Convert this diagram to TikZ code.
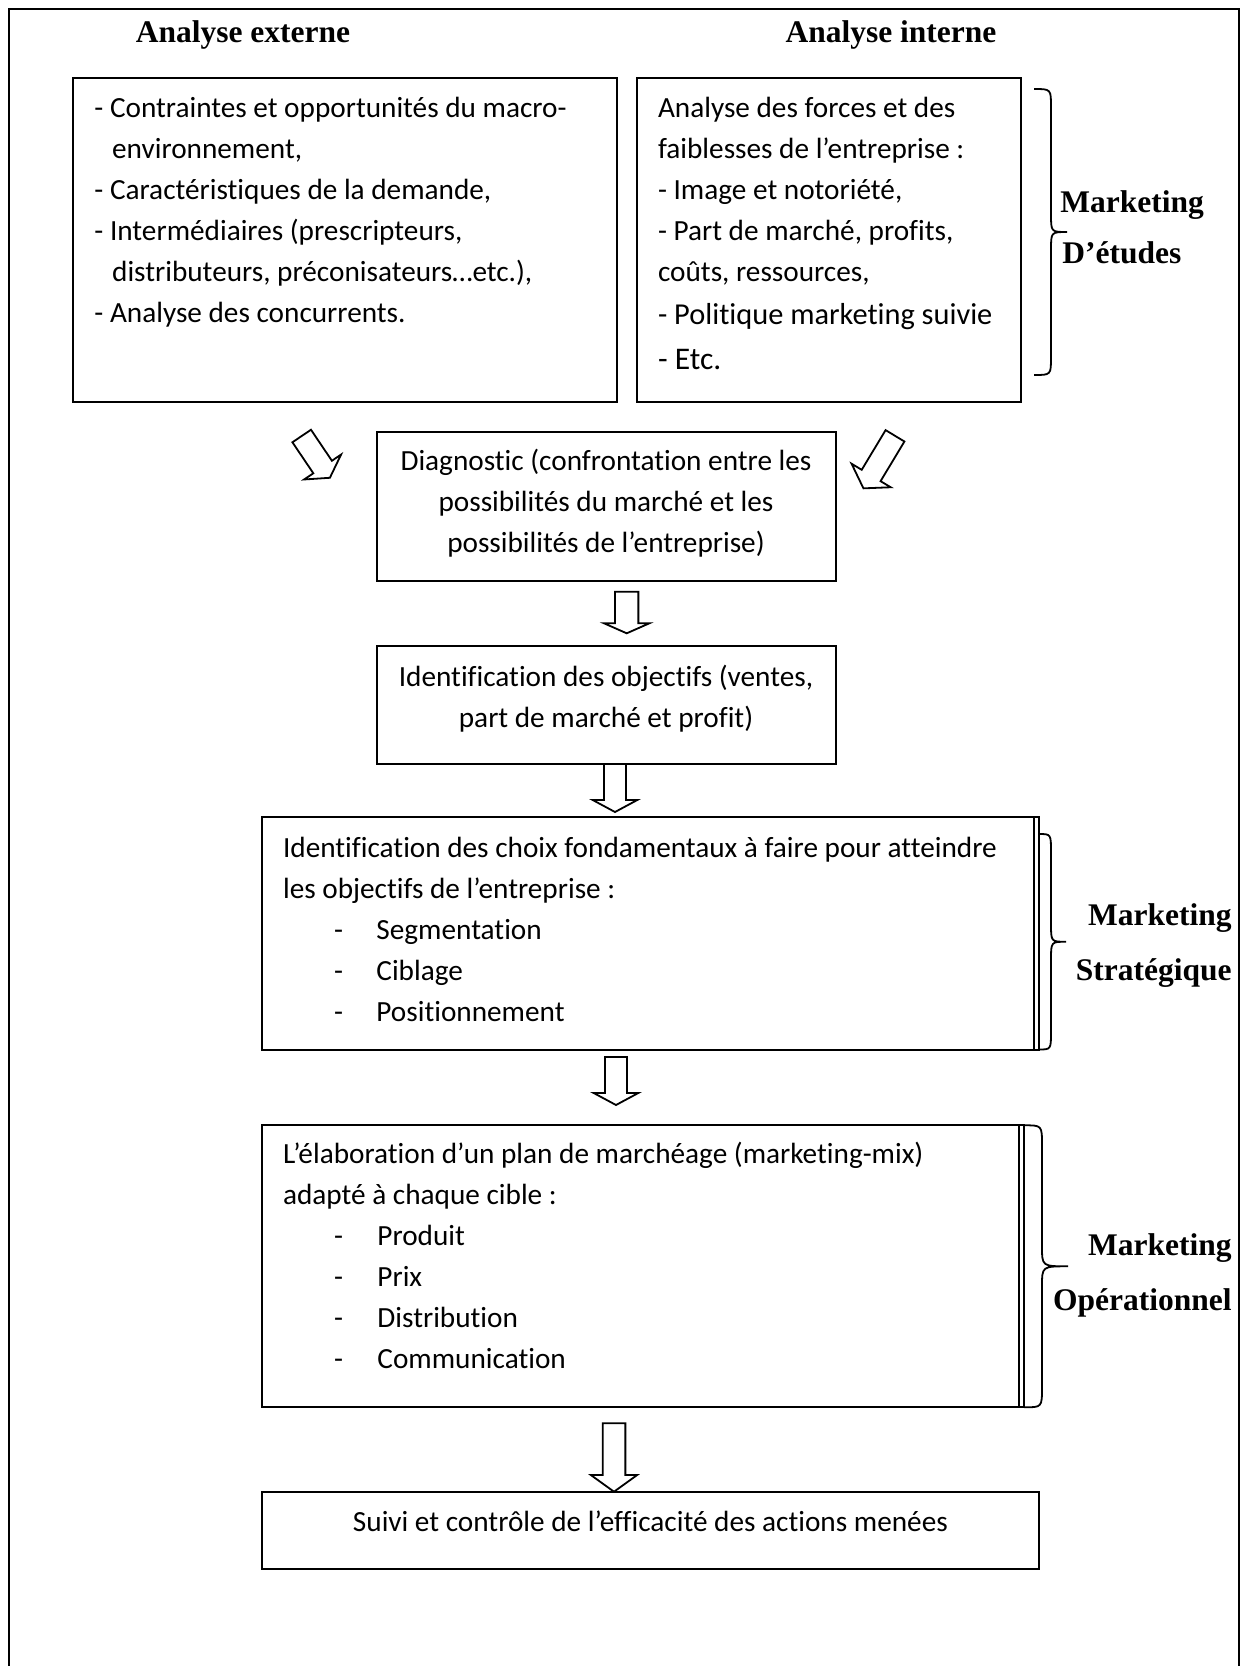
\documentclass[tikz,border=0pt]{standalone}
\usepackage{fontspec}
\setmainfont{Carlito}[Ligatures=NoCommon]
\newfontfamily\serifbf{Liberation Serif}
\usetikzlibrary{fit}
\tikzset{
  boxst/.style={draw, line width=0.9pt, inner sep=0pt},
  txt/.style={font=\fontsize{13}{18}\selectfont, inner sep=0pt, anchor=base west},
  ctxt/.style={font=\fontsize{13}{18}\selectfont, inner sep=0pt, anchor=base},
  hdr/.style={font=\serifbf\bfseries\fontsize{14}{17}\selectfont, inner sep=0pt},
  barrow/.style={draw, line width=0.8pt, fill=white, line join=miter},
  brc/.style={draw, line width=0.8pt},
  framest/.style={draw, line width=1.1pt}
}
\newcommand\blkarrow[7]{% x, y, rotation, length, shaft width, head width, head length
  \draw[barrow, shift={(#1,#2)}, rotate=#3]
    (-#5/2,0) -- (-#5/2,#4-#7) -- (-#6/2,#4-#7) -- (0,#4) -- (#6/2,#4-#7) -- (#5/2,#4-#7) -- (#5/2,0) -- cycle;}
\newcommand\wbrace[6]{% end x, spine x, tip x, top y, bottom y, radius
  \draw[brc] (#1,#4) .. controls (#2,#4) .. (#2,#4+#6)
    -- (#2,{(#4+#5)/2-#6}) .. controls (#2,{(#4+#5)/2}) .. (#3,{(#4+#5)/2})
    .. controls (#2,{(#4+#5)/2}) .. (#2,{(#4+#5)/2+#6})
    -- (#2,#5-#6) .. controls (#2,#5) .. (#1,#5);}
\begin{document}
\begin{tikzpicture}[x=0.4444pt,y=-0.4444pt]
\useasboundingbox (0,0) rectangle (1244,1666);
\draw[framest] (9,1672) -- (9,9) -- (1239,9) -- (1239,1672);

% headers
\node[hdr, anchor=base] (hext) at (243,42) {Analyse externe};
\node[hdr, anchor=base] (hint) at (891,42) {Analyse interne};

% boxes
\node[boxst, fit={(72.7,78.3) (616.7,402.3)}] (ext) {};
\node[boxst, fit={(637.3,78.3) (1021,402.3)}] (int) {};
\node[boxst, fit={(376.7,432.3) (835.7,581)}] (diag) {};
\node[boxst, fit={(376.7,646) (835.7,764)}] (obj) {};
\node[boxst, fit={(261.7,817.3) (1038.6,1049.5)}] (strat) {};
\draw[line width=0.9pt] (1033.8,817.3) -- (1033.8,1049.5);
\node[boxst, fit={(261.7,1125.3) (1024,1407.3)}] (oper) {};
\draw[line width=0.9pt] (1019,1125.3) -- (1019,1407.3);
\node[boxst, fit={(261.7,1491.7) (1039,1569)}] (suivi) {};

% external analysis text
\node[txt] (e1) at (94,117) {- Contraintes et opportunités du macro-};
\node[txt] (e2) at (111.7,158) {environnement,};
\node[txt] (e3) at (94,199) {- Caractéristiques de la demande,};
\node[txt] (e4) at (94,240) {- Intermédiaires (prescripteurs,};
\node[txt] (e5) at (111.7,281) {distributeurs, préconisateurs…etc.),};
\node[txt] (e6) at (94,322) {- Analyse des concurrents.};

% internal analysis text
\node[txt] (i1) at (657.6,117) {Analyse des forces et des};
\node[txt] (i2) at (657.6,158) {faiblesses de l’entreprise :};
\node[txt] (i3) at (657.6,199) {- Image et notoriété,};
\node[txt] (i4) at (657.6,240) {- Part de marché, profits,};
\node[txt] (i5) at (657.6,281) {coûts, ressources,};
\node[txt, font=\fontsize{13.5}{18}\selectfont] (i6) at (657.6,324) {- Politique marketing suivie};
\node[txt, font=\fontsize{14}{18}\selectfont] (i7) at (657.6,369) {- Etc.};

% diagnostic
\node[ctxt] (d1) at (606,470) {Diagnostic (confrontation entre les};
\node[ctxt] (d2) at (606,511) {possibilités du marché et les};
\node[ctxt] (d3) at (606,552) {possibilités de l’entreprise)};

% objectives
\node[ctxt] (o1) at (606,686) {Identification des objectifs (ventes,};
\node[ctxt] (o2) at (606,727) {part de marché et profit)};

% strategic
\node[txt] (s1) at (282.6,857) {Identification des choix fondamentaux à faire pour atteindre};
\node[txt] (s2) at (282.6,898) {les objectifs de l’entreprise :};
\node[txt] (s3d) at (333.6,939) {-};
\node[txt] (s3) at (376,939) {Segmentation};
\node[txt] (s4d) at (333.6,980) {-};
\node[txt] (s4) at (376,980) {Ciblage};
\node[txt] (s5d) at (333.6,1021) {-};
\node[txt] (s5) at (376,1021) {Positionnement};

% operational
\node[txt] (p1) at (282.6,1163.5) {L’élaboration d’un plan de marchéage (marketing-mix)};
\node[txt] (p2) at (282.6,1204.5) {adapté à chaque cible :};
\node[txt] (p3d) at (333.6,1245.5) {-};
\node[txt] (p3) at (377,1245.5) {Produit};
\node[txt] (p4d) at (333.6,1286.5) {-};
\node[txt] (p4) at (377,1286.5) {Prix};
\node[txt] (p5d) at (333.6,1327.5) {-};
\node[txt] (p5) at (377,1327.5) {Distribution};
\node[txt] (p6d) at (333.6,1368.5) {-};
\node[txt] (p6) at (377,1368.5) {Communication};

% follow-up
\node[ctxt] (f1) at (650.4,1531) {Suivi et contrôle de l’efficacité des actions menées};

% block arrows
\blkarrow{301.7}{436}{34}{50.4}{22.4}{44.6}{13}
\blkarrow{895}{435.8}{-31}{61.3}{22}{45.7}{15}
\blkarrow{626.7}{591.7}{0}{41.6}{23.3}{45.3}{10}
\blkarrow{615}{764}{0}{48}{22}{44.6}{12}
\blkarrow{616}{1057}{0}{48}{22}{44.6}{12}
\blkarrow{614}{1423.3}{0}{68.4}{22.7}{46.3}{16.7}

% braces
\wbrace{1034}{1051}{1067}{89}{375}{18}
\wbrace{1038.6}{1051}{1066}{834}{1049.5}{18}
\wbrace{1024}{1042}{1068}{1125.3}{1407.3}{20}

% side labels
\node[hdr, anchor=base west] (m1a) at (1060,212) {Marketing};
\node[hdr, anchor=base west] (m1b) at (1062,263) {D’études};
\node[hdr, anchor=base east] (m2a) at (1232,925) {Marketing};
\node[hdr, anchor=base east] (m2b) at (1232,980) {Stratégique};
\node[hdr, anchor=base east] (m3a) at (1232,1255) {Marketing};
\node[hdr, anchor=base east] (m3b) at (1232,1310) {Opérationnel};
\end{tikzpicture}
\end{document}
